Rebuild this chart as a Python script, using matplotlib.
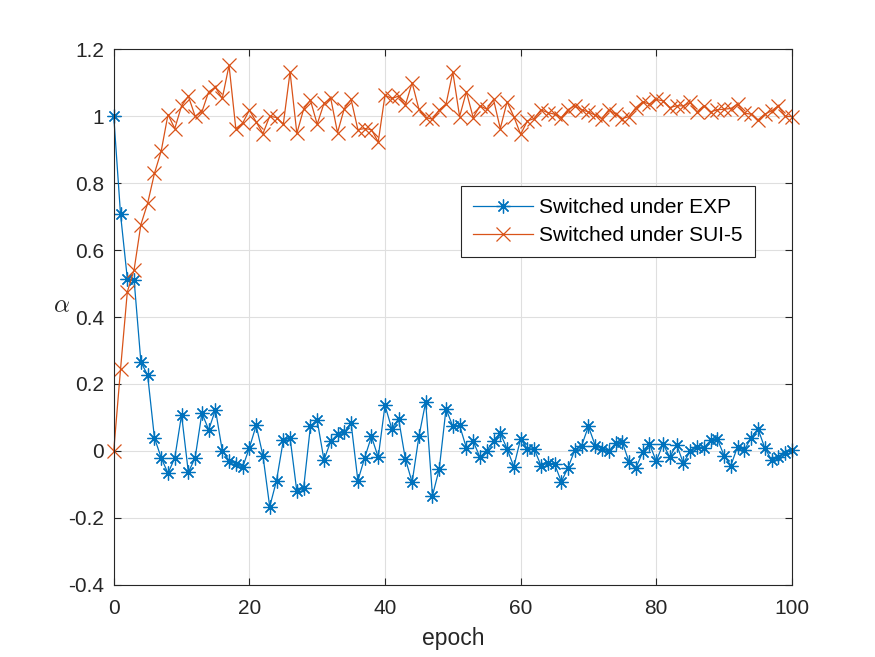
import matplotlib
matplotlib.use("Agg")
import matplotlib.pyplot as plt
from matplotlib.ticker import FuncFormatter

plt.rcParams['font.family'] = ['Liberation Sans', 'DejaVu Sans']
plt.rcParams['mathtext.fontset'] = 'cm'

epochs = list(range(101))

exp_alpha = [
    1.0, 0.707, 0.515, 0.511, 0.266, 0.226, 0.039, -0.021, -0.067, -0.021,
    0.108, -0.064, -0.021, 0.113, 0.063, 0.123, 0.001, -0.029, -0.039, -0.049,
    0.009, 0.076, -0.014, -0.167, -0.089, 0.031, 0.039, -0.121, -0.111, 0.073,
    0.091, -0.027, 0.029, 0.049, 0.056, 0.083, -0.089, -0.021, 0.043, -0.019,
    0.136, 0.066, 0.096, -0.024, -0.094, 0.043, 0.146, -0.134, -0.054, 0.126,
    0.073, 0.076, 0.009, 0.029, -0.019, 0.001, 0.029, 0.053, 0.006, -0.047,
    0.036, 0.006, 0.006, -0.044, -0.037, -0.039, -0.092, -0.050, 0.003, 0.016,
    0.073, 0.016, 0.006, -0.001, 0.023, 0.026, -0.034, -0.051, -0.004, 0.021,
    -0.031, 0.021, -0.019, 0.019, -0.037, -0.001, 0.013, 0.009, 0.031, 0.036,
    -0.014, -0.044, 0.013, 0.003, 0.039, 0.066, 0.009, -0.027, -0.019, -0.007,
    0.003,
]

sui5_alpha = [
    0.0, 0.244, 0.475, 0.541, 0.676, 0.74, 0.829, 0.896, 1.005, 0.963,
    1.031, 1.06, 1.0, 1.013, 1.073, 1.086, 1.053, 1.152, 0.963, 0.979,
    1.018, 0.983, 0.948, 1.0, 0.996, 0.976, 1.132, 0.949, 1.021, 1.048,
    0.976, 1.038, 1.053, 0.951, 1.023, 1.05, 0.96, 0.963, 0.96, 0.923,
    1.063, 1.053, 1.06, 1.033, 1.10, 1.021, 0.996, 0.991, 1.019, 1.036,
    1.132, 0.999, 1.073, 0.996, 1.031, 1.021, 1.05, 0.963, 1.043, 0.999,
    0.946, 0.986, 0.993, 1.019, 1.011, 1.006, 0.996, 1.02, 1.031, 1.019,
    1.013, 1.003, 0.993, 1.019, 1.006, 0.993, 0.999, 1.026, 1.043, 1.036,
    1.05, 1.046, 1.026, 1.031, 1.031, 1.041, 1.013, 1.031, 1.013, 1.019,
    1.021, 1.023, 1.036, 1.009, 1.006, 0.989, 1.006, 1.016, 1.031, 1.0,
    0.999,
]

labels = ['Switched under EXP', 'Switched under SUI-5']
x_ticks = [0, 20, 40, 60, 80, 100]
y_ticks = [-0.4, -0.2, 0, 0.2, 0.4, 0.6, 0.8, 1.0, 1.2]

blue = '#0072BD'
orange = '#D95319'
axcol = '#262626'

fig = plt.figure(figsize=(8.75, 6.57), dpi=100)
ax = fig.add_axes([0.13, 0.11, 0.775, 0.815])

ax.plot(epochs, exp_alpha, color=blue, lw=0.9, marker=(8, 2, 0),
        markersize=10, markeredgewidth=0.9, label=labels[0], clip_on=False)
ax.plot(epochs, sui5_alpha, color=orange, lw=0.9, marker='x',
        markersize=9.5, markeredgewidth=0.9, label=labels[1], clip_on=False)

ax.set_xlim(0, 100)
ax.set_ylim(-0.4, 1.2)
ax.set_xticks(x_ticks)
ax.set_yticks(y_ticks)

def fmt(v, pos):
    s = ('%.1f' % v)
    if s.endswith('.0'):
        s = s[:-2]
    if s == '-0':
        s = '0'
    return s

ax.yaxis.set_major_formatter(FuncFormatter(fmt))

ax.grid(True, color='#DFDFDF', lw=0.8)
ax.set_axisbelow(True)
for sp in ax.spines.values():
    sp.set_color(axcol)
    sp.set_linewidth(0.8)
ax.tick_params(direction='in', length=5, width=0.8, colors=axcol,
               labelsize=15, top=True, right=True, pad=7)
ax.tick_params(axis='x', pad=10)
for lab in ax.get_xticklabels() + ax.get_yticklabels():
    lab.set_color(axcol)

ax.set_xlabel('epoch', fontsize=16.5, color=axcol, labelpad=7)
ax.set_ylabel(r'$\alpha$', fontsize=18, color=axcol, rotation=0,
              va='center', ha='center')
ax.yaxis.set_label_coords(-0.077, 0.523)

leg = ax.legend(loc='upper right', bbox_to_anchor=(0.945, 0.744),
                fontsize=15, frameon=True, fancybox=False, framealpha=1,
                edgecolor=axcol, handlelength=2.85, handletextpad=0.3,
                borderpad=0.58, labelspacing=0.43, borderaxespad=0)
leg.get_frame().set_linewidth(0.8)

fig.savefig('out.png', dpi=100)
